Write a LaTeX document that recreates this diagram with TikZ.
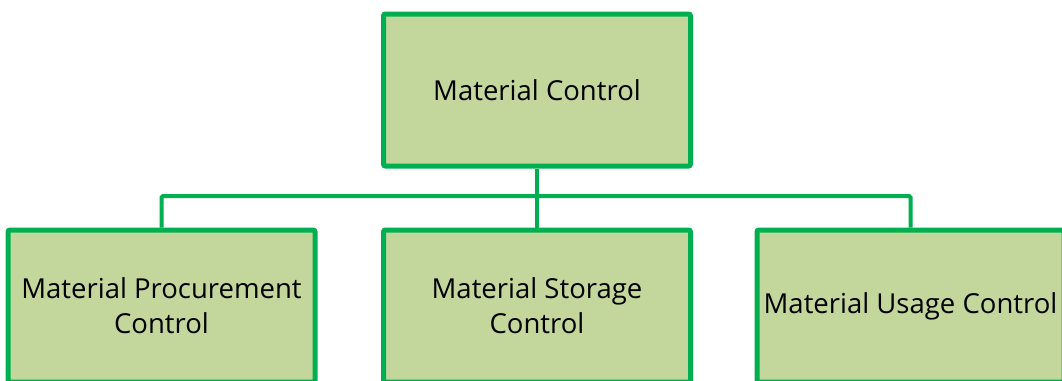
\documentclass[tikz,border=0pt]{standalone}
\usepackage{fontspec}
\setmainfont{Open Sans}
\usetikzlibrary{positioning,backgrounds}

\definecolor{boxfill}{HTML}{C3D69B}
\definecolor{boxline}{HTML}{00B050}

\tikzset{
  orgbox/.style={draw=boxline, fill=boxfill, line width=5pt, rounded corners=2pt,
    minimum width=307pt, minimum height=152pt, align=center,
    font=\fontsize{27.5}{35}\selectfont},
  link/.style={draw=boxline, line width=4pt, rounded corners=1.5pt}
}

\begin{document}
\begin{tikzpicture}[x=1pt, y=-1pt]
  \useasboundingbox (0,0) rectangle (1062,380);

  % --- boxes ---
  \node[orgbox] (top)   at (537,90)    {Material Control};
  \node[orgbox] (left)  at (161.5,306) {Material Procurement\\Control};
  \node[orgbox] (mid)   at (537,306)   {Material Storage\\Control};
  \node[orgbox] (right) at (910.5,306) {Material Usage Control};

  % --- connectors, kept behind the boxes ---
  \begin{scope}[on background layer]
    \coordinate (bus) at (537,196);
    \draw[link] (top.south) -- (bus);
    \draw[link] (bus) -| (left.north);
    \draw[link] (bus) -| (right.north);
    \draw[link] (bus) -- (mid.north);
  \end{scope}
\end{tikzpicture}
\end{document}
